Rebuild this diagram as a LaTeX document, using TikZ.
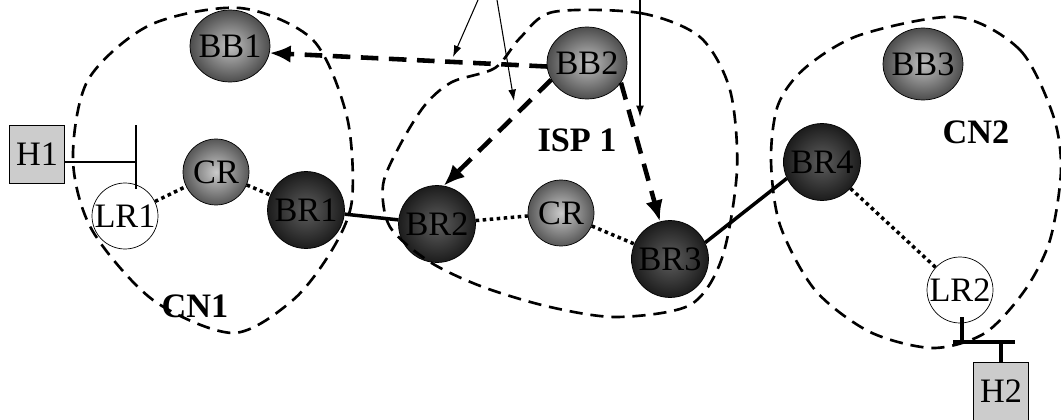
\documentclass[tikz,border=0pt]{standalone}
\usepackage{fontspec}
\setmainfont{Liberation Serif}
\usetikzlibrary{positioning,arrows.meta,shapes.geometric}
\definecolor{bbin}{HTML}{C0C0C0}
\definecolor{bbout}{HTML}{4D4D4D}
\definecolor{crin}{HTML}{CACACA}
\definecolor{crout}{HTML}{575757}
\definecolor{brin}{HTML}{5E5E5E}
\definecolor{brout}{HTML}{1C1C1C}
\newcommand{\netfont}{\fontsize{19.5}{23}\selectfont}
\tikzset{
  backbone/.style={
    draw,
    ellipse,
    minimum width=1.6cm,
    minimum height=1.44cm,
    inner xsep=-1.5mm,
    inner ysep=0pt,
    inner color=bbin,
    outer color=bbout,
    font=\netfont
  },
  core/.style={
    draw,
    circle,
    minimum size=1.32cm,
    inner sep=0pt,
    inner color=crin,
    outer color=crout,
    font=\netfont
  },
  border/.style={
    draw,
    circle,
    minimum size=1.54cm,
    inner sep=0pt,
    inner color=brin,
    outer color=brout,
    font=\netfont
  },
  leaf/.style={draw,circle,minimum size=1.32cm,inner sep=0pt,fill=white,font=\netfont},
  host/.style={draw,rectangle,minimum width=1.1cm,minimum height=1.16cm,inner sep=0pt,fill=gray!40,font=\netfont},
  zone/.style={line width=1.5pt,dash pattern=on 7.5pt off 4.5pt},
  link/.style={line width=2pt},
  peer/.style={line width=2pt,dash pattern=on 2pt off 2pt},
  flow/.style={->,>={Latex[length=12pt,width=10pt]},line width=2.6pt,dash pattern=on 10pt off 6pt},
  hint/.style={->,>={Latex[length=6.5pt,width=4.5pt]},line width=0.6pt},
  wire/.style={line width=0.8pt},
  busbar/.style={line width=2pt},
  tag/.style={font=\netfont\bfseries}
}

\begin{document}
\begin{tikzpicture}[x=0.02cm,y=-0.02cm]

	\useasboundingbox (0,0) rectangle (1061,419);

	% CN1
	\node[backbone] (bb1) at (230,46) {BB1};
	\node[core] (cr1) at (216,172) {CR};
	\node[border] (br1) at (306,210) {BR1};
	\node[leaf] (lr1) at (125,216) {LR1};
	\node[host] (h1) at (37,154) {H1};

	% ISP 1
	\node[backbone] (bb2) at (587,63) {BB2};
	\node[border] (br2) at (437,224) {BR2};
	\node[core] (cr2) at (561,213) {CR};
	\node[border] (br3) at (670,259) {BR3};

	% CN2
	\node[backbone] (bb3) at (923,64) {BB3};
	\node[border] (br4) at (822,162) {BR4};
	\node[leaf] (lr2) at (960,290) {LR2};
	\node[host] (h2) at (1001,391) {H2};

	\node[tag] (cn1) at (195,306) {CN1};
	\node[tag] (isp) at (577,140) {ISP 1};
	\node[tag] (cn2) at (976,132) {CN2};

	% domains
	\draw[zone] plot[smooth cycle] coordinates {(240,8) (313,40) (347,117) (352,200) (332,250) (293,300) (233,333) (153,300) (92,230) (73,160) (88,80) (150,25)};
	\draw[zone] plot[smooth cycle] coordinates {(553,12) (640,13) (700,37) (730,90) (737,170) (722,258) (690,305) (617,317) (550,307) (483,287) (430,262) (390,227) (383,185) (400,145) (425,105) (452,82) (495,68) (520,38)};
	\draw[zone] plot[smooth cycle] coordinates {(957,17) (1020,50) (1053,115) (1061,170) (1050,240) (1025,290) (985,333) (933,348) (870,332) (815,290) (780,225) (771,160) (778,105) (805,68) (860,35)};

	% links
	\draw[peer] (lr1) -- (cr1);
	\draw[peer] (cr1) -- (br1);
	\draw[peer] (br2) -- (cr2);
	\draw[peer] (cr2) -- (br3);
	\draw[peer] (br4) -- (lr2);
	\draw[link] (br1) -- (br2);
	\draw[link] (br3.25) -- (br4.205);

	% hosts
	\coordinate (tap1) at (136,162);
	\coordinate (bar1top) at (136,125);
	\coordinate (bar1bot) at (136,189);
	\draw[wire] (h1.east |- tap1) -- (tap1);
	\draw[wire] (bar1top) -- (bar1bot);

	\coordinate (bus2) at (962,342);
	\coordinate (bus2w) at (953,342);
	\coordinate (bus2e) at (1015,342);
	\draw[busbar] (lr2.south -| bus2) ++(0,-6) -- (bus2);
	\draw[busbar] (bus2w) -- (bus2e);
	\draw[busbar] (h2.north |- bus2) -- (h2.north);

	% flows
	\draw[flow] (bb2.185) -- (bb1.350);
	\draw[flow] (bb2.205) -- (br2.80);
	\draw[flow] (bb2.330) -- (br3.105);

	\coordinate (in1) at (478,0);
	\coordinate (in2) at (497,0);
	\coordinate (in3) at (640,0);
	\coordinate (out1) at (453,57);
	\coordinate (out2) at (514,101);
	\coordinate (out3) at (640,117);
	\draw[hint] (in1) -- (out1);
	\draw[hint] (in2) -- (out2);
	\draw[hint] (in3) -- (out3);

\end{tikzpicture}
\end{document}
